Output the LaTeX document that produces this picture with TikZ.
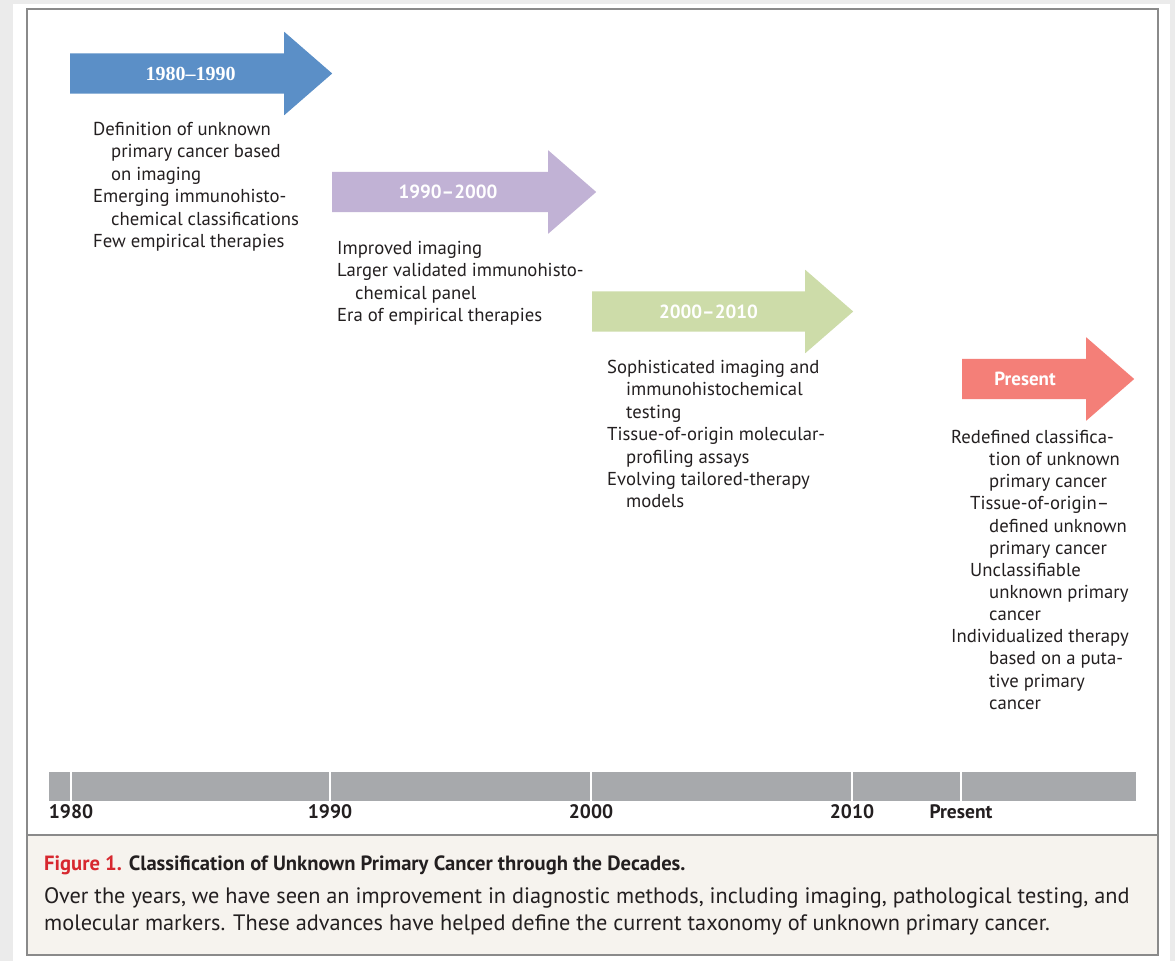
\documentclass[tikz,border=0pt]{standalone}
\usepackage{fontspec}
\setmainfont{PT Sans}
\newfontfamily\yearserif[Ligatures=TeX]{Liberation Serif}
\usetikzlibrary{shapes.arrows}
\definecolor{eraBlue}{HTML}{5B8FC7}
\definecolor{eraPurple}{HTML}{C1B2D5}
\definecolor{eraGreen}{HTML}{CDDCA9}
\definecolor{eraRed}{HTML}{F47F78}
\definecolor{barGrey}{HTML}{A7A9AC}
\definecolor{capBg}{HTML}{F6F3EE}
\definecolor{figRed}{HTML}{D7282F}
\definecolor{inkDark}{HTML}{231F20}
\definecolor{pageGrey}{HTML}{EBEBEB}
\definecolor{frameGrey}{HTML}{8A8A8A}
\tikzset{
  era/.style={single arrow, draw=none, single arrow head extend=21.5pt, single arrow tip angle=82,
    minimum width=83pt, inner xsep=0pt, inner ysep=20pt, anchor=tail},
  eralabel/.style={font=\bfseries\fontsize{19}{22}\selectfont, text=white, inner sep=0pt},
  bullets/.style={anchor=north west, align=left, inner sep=0pt, font=\fontsize{18.7}{22.4}\selectfont, text=inkDark},
  decade/.style={font=\bfseries\fontsize{19.5}{22}\selectfont, text=inkDark, inner sep=0pt},
  capline/.style={anchor=west, inner sep=0pt, text=inkDark},
  tick/.style={draw=white, line width=1.2pt}
}
\newcommand{\ind}{\hspace*{18pt}}
\newcommand{\indd}{\hspace*{38pt}}
\newcommand{\indo}{\hspace*{19pt}}

\begin{document}
\begin{tikzpicture}[x=1pt, y=-1pt]
  \useasboundingbox (0,0) rectangle (1175,961);
  % page and frame
  \fill[pageGrey] (0,0) rectangle (1175,961);
  \fill[white] (13,4) rectangle (1170,961);
  \fill[capBg] (27,835) rectangle (1158,955);
  \draw[frameGrey, line width=1.6pt] (27,9) rectangle (1158,955);
  \draw[frameGrey, line width=1.2pt] (27,835) -- (1158,835);

  % decade arrows
  \node[era, fill=eraBlue, minimum height=262pt] (a80) at (70,73.5) {};
  \node[eralabel, font=\yearserif\bfseries\fontsize{20}{22}\selectfont] (l80) at (190.5,73.5) {1980--1990};
  \node[era, fill=eraPurple, minimum height=264pt] (a90) at (332,192) {};
  \node[eralabel] (l90) at (448,192) {1990--2000};
  \node[era, fill=eraGreen, minimum height=261pt] (a00) at (592,311.5) {};
  \node[eralabel] (l00) at (708.5,311.5) {2000--2010};
  \node[era, fill=eraRed, minimum height=172pt] (apr) at (962,379) {};
  \node[eralabel] (lpr) at (1025,379) {Present};

  % what each era brought
  \node[bullets] (t80) at (93,122) {Definition of unknown\\\ind primary cancer based\\\ind on imaging\\
    Emerging immunohisto-\\\ind chemical classifications\\Few empirical therapies};
  \node[bullets] (t90) at (337,241) {Improved imaging\\Larger validated immunohisto-\\\ind chemical panel\\
    Era of empirical therapies};
  \node[bullets] (t00) at (607,360) {Sophisticated imaging and\\\indo immunohistochemical\\\indo testing\\
    Tissue-of-origin molecular-\\\indo profiling assays\\Evolving tailored-therapy\\\indo models};
  \node[bullets, font=\fontsize{18.7}{22.15}\selectfont] (tpr) at (951,430) {Redefined classifica-\\\indd tion of unknown\\\indd primary cancer\\
    \indo Tissue-of-origin--\\\indd defined unknown\\\indd primary cancer\\
    \indo Unclassifiable\\\indd unknown primary\\\indd cancer\\
    Individualized therapy\\\indd based on a puta-\\\indd tive primary\\\indd cancer};

  % timeline
  \fill[barGrey] (49,772) rectangle (1136,801);
  \foreach \tx/\yr in {71/1980, 330/1990, 591/2000, 852/2010, 961/Present} {
    \draw[tick] (\tx,772) -- (\tx,801);
    \node[decade] (y\yr) at (\tx,812) {\yr};
  }

  % caption
  \node[capline, font=\bfseries\fontsize{20.6}{27}\selectfont] (cap) at (44,865)
    {\textcolor{figRed}{Figure 1.} Classification of Unknown Primary Cancer through the Decades.};
  \node[capline, font=\fontsize{22.3}{27}\selectfont] (capA) at (44,898)
    {Over the years, we have seen an improvement in diagnostic methods, including imaging, pathological testing, and};
  \node[capline, font=\fontsize{22.3}{27}\selectfont] (capB) at (44,925)
    {molecular markers. These advances have helped define the current taxonomy of unknown primary cancer.};
\end{tikzpicture}
\end{document}
